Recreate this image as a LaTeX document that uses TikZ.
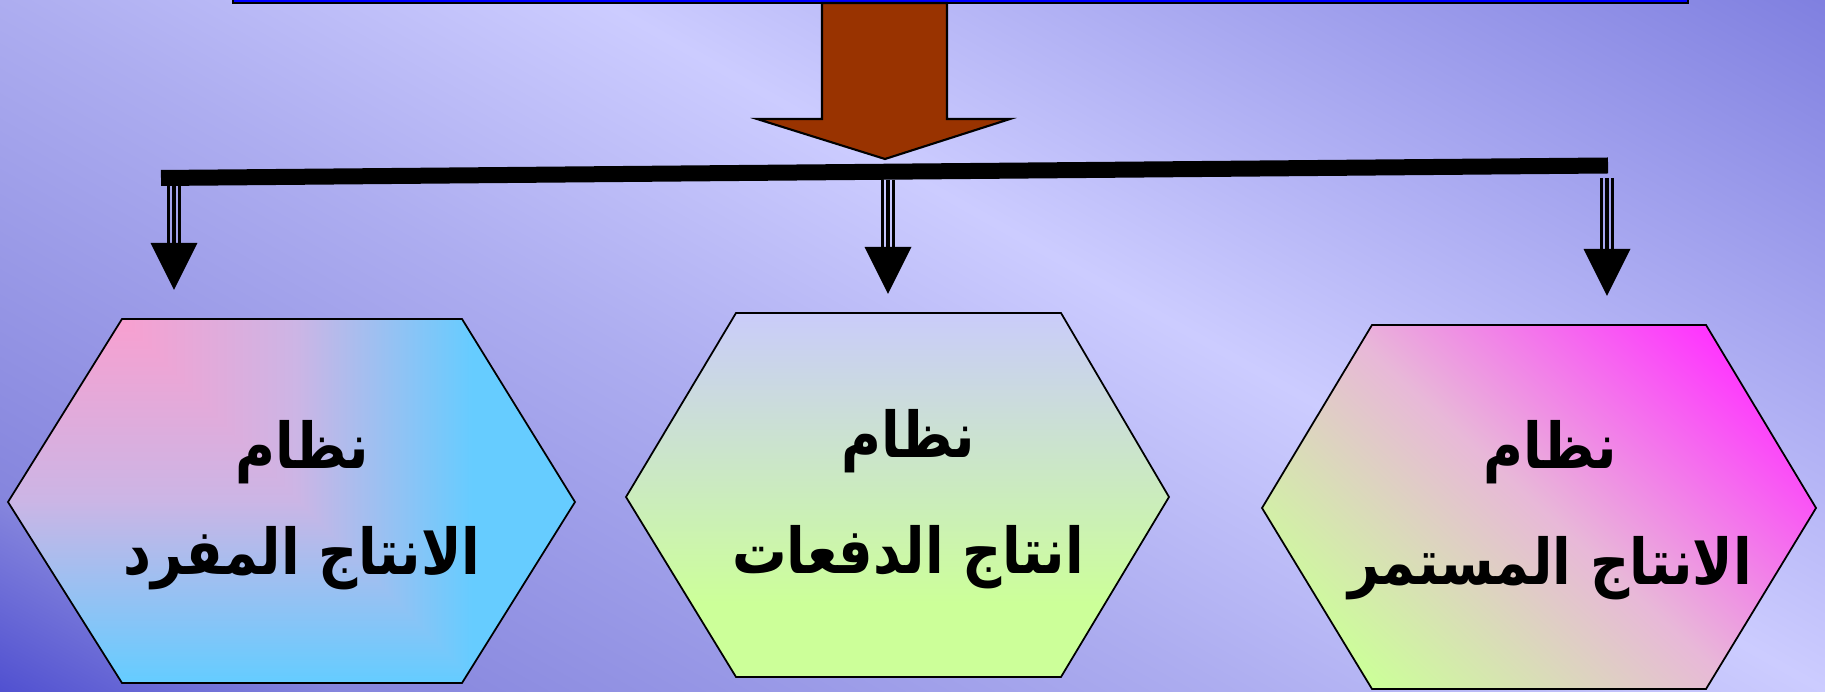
\documentclass[tikz,border=0pt]{standalone}
\usepackage{fontspec}
\usetikzlibrary{arrows.meta,calc}
\newfontfamily\arabicfont[Script=Arabic, FakeStretch=0.86]{DejaVu Sans}
\TeXXeTstate=1

\definecolor{titleblue}{HTML}{0000FF}
\definecolor{rust}{HTML}{993300}
\definecolor{bgdark}{HTML}{5050D0}
\definecolor{bgmid}{HTML}{8585DD}
\definecolor{bgsoft}{HTML}{ADADF0}
\definecolor{bglight}{HTML}{CCCCFF}
\definecolor{bgcorner}{HTML}{8080E0}
\definecolor{rosepink}{HTML}{F8A0D0}
\definecolor{lilac}{HTML}{CCB5E5}
\definecolor{skyblue}{HTML}{66CCFF}
\definecolor{paleviolet}{HTML}{CACCFA}
\definecolor{palegreen}{HTML}{CCFF99}
\definecolor{magentapink}{HTML}{FF33FF}
\definecolor{blush}{HTML}{E8B8D8}

% shadings, 50bp in the middle = the shaded square
\pgfdeclareverticalshading{backdrop}{100bp}{color(0bp)=(bgdark); color(35bp)=(bgdark); color(37.8bp)=(bgmid); color(45.1bp)=(bgsoft); color(50bp)=(bglight); color(60bp)=(bgcorner); color(100bp)=(bgcorner)}
\pgfdeclareverticalshading{batchfill}{100bp}{color(0bp)=(palegreen); color(42.75bp)=(palegreen); color(50bp)=(paleviolet); color(100bp)=(paleviolet)}
\pgfdeclareverticalshading{flowfill}{100bp}{color(0bp)=(palegreen); color(37.65bp)=(palegreen); color(43.8bp)=(blush); color(50bp)=(magentapink); color(100bp)=(magentapink)}

\tikzset{
  hexbox/.style={draw=black, line width=0.5pt},
  tripleline/.style={line width=1pt},
  hextext/.style={font=\arabicfont\bfseries\fontsize{18}{33}\selectfont, align=center, text=black},
}

\begin{document}
\begin{tikzpicture}[x=0.01cm, y=0.01cm]
	\useasboundingbox (0,0) rectangle (1825,691);
	\clip (0,0) rectangle (1825,691);
	% backdrop
	\shade[shading=backdrop, shading angle=-29.4] (-900,-809) rectangle (2100,2191);

	% the three systems
	\begin{scope}
		\clip (8,189) -- (122,372) -- (462,372) -- (575,189) -- (462,8) -- (122,8) -- cycle;
		\fill[skyblue] (0,0) rectangle (600,400);
		\shade[top color=rosepink, bottom color=skyblue, middle color=lilac] (-10,12) rectangle (600,372);
		% gradient from the top left corner: right of the diagonal it runs sideways
		\clip (122,372) -- (822,-348) -- (822,400) -- (122,400) -- cycle;
		\shade[left color=rosepink, right color=skyblue, middle color=lilac] (122,-10) rectangle (472,400);
		\fill[skyblue] (472,-10) rectangle (600,400);
	\end{scope}
	\draw[hexbox] (8,189) -- (122,372) -- (462,372) -- (575,189) -- (462,8) -- (122,8) -- cycle;
	\begin{scope}
		\clip (626,194) -- (736,378) -- (1061,378) -- (1169,194) -- (1061,14) -- (736,14) -- cycle;
		\shade[shading=batchfill] (-103,-622) rectangle (1897,1378);
	\end{scope}
	\draw[hexbox] (626,194) -- (736,378) -- (1061,378) -- (1169,194) -- (1061,14) -- (736,14) -- cycle;
	\begin{scope}
		\clip (1262,183) -- (1372,366) -- (1706,366) -- (1816,183) -- (1706,2) -- (1372,2) -- cycle;
		\shade[shading=flowfill, shading angle=-42.5] (706,-634) rectangle (2706,1366);
	\end{scope}
	\draw[hexbox] (1262,183) -- (1372,366) -- (1706,366) -- (1816,183) -- (1706,2) -- (1372,2) -- cycle;

	% title box and the big arrow under it
	\filldraw[fill=titleblue, draw=black, line width=0.5pt] (233,688) rectangle (1688,700);
	\filldraw[fill=rust, draw=black, line width=0.6pt] (822,688) -- (822,572) -- (757,572) -- (885,532) -- (1010,572) -- (947,572) -- (947,688) -- cycle;

	% branch bar
	\coordinate (barwest) at (161,513);
	\coordinate (bareast) at (1608,525.5);
	\draw[line width=4.55pt] (barwest) -- (bareast);

	\coordinate (singletop) at (174,505);
	\coordinate (singletip) at (174,401);
	\coordinate (batchtop) at (888,511);
	\coordinate (batchtip) at (888,397);
	\coordinate (flowtop) at (1607,513);
	\coordinate (flowtip) at (1607,395);

	\draw[tripleline] ($(singletop)+(-5.5,0)$) -- ($(singletip)+(-5.5,47)$);
	\draw[tripleline] ($(singletop)+(5.5,0)$) -- ($(singletip)+(5.5,47)$);
	\draw[tripleline, -{Triangle[length=13.4pt,width=13.1pt]}] (singletop) -- (singletip);
	\draw[tripleline] ($(batchtop)+(-5.5,0)$) -- ($(batchtip)+(-5.5,47)$);
	\draw[tripleline] ($(batchtop)+(5.5,0)$) -- ($(batchtip)+(5.5,47)$);
	\draw[tripleline, -{Triangle[length=13.4pt,width=13.1pt]}] (batchtop) -- (batchtip);
	\draw[tripleline] ($(flowtop)+(-5.5,0)$) -- ($(flowtip)+(-5.5,47)$);
	\draw[tripleline] ($(flowtop)+(5.5,0)$) -- ($(flowtip)+(5.5,47)$);
	\draw[tripleline, -{Triangle[length=13.4pt,width=13.1pt]}] (flowtop) -- (flowtip);

	% labels
	\node[hextext, font=\arabicfont\bfseries\fontsize{18}{30}\selectfont] (single) at (302,186) {\beginR نظام\endR\\\beginR الانتاج المفرد\endR};
	\node[hextext] (batch) at (908,192) {\beginR نظام\endR\\\beginR انتاج الدفعات\endR};
	\node[hextext] (flow) at (1550,181) {\beginR نظام\endR\\\beginR الانتاج المستمر\endR};
\end{tikzpicture}
\end{document}
